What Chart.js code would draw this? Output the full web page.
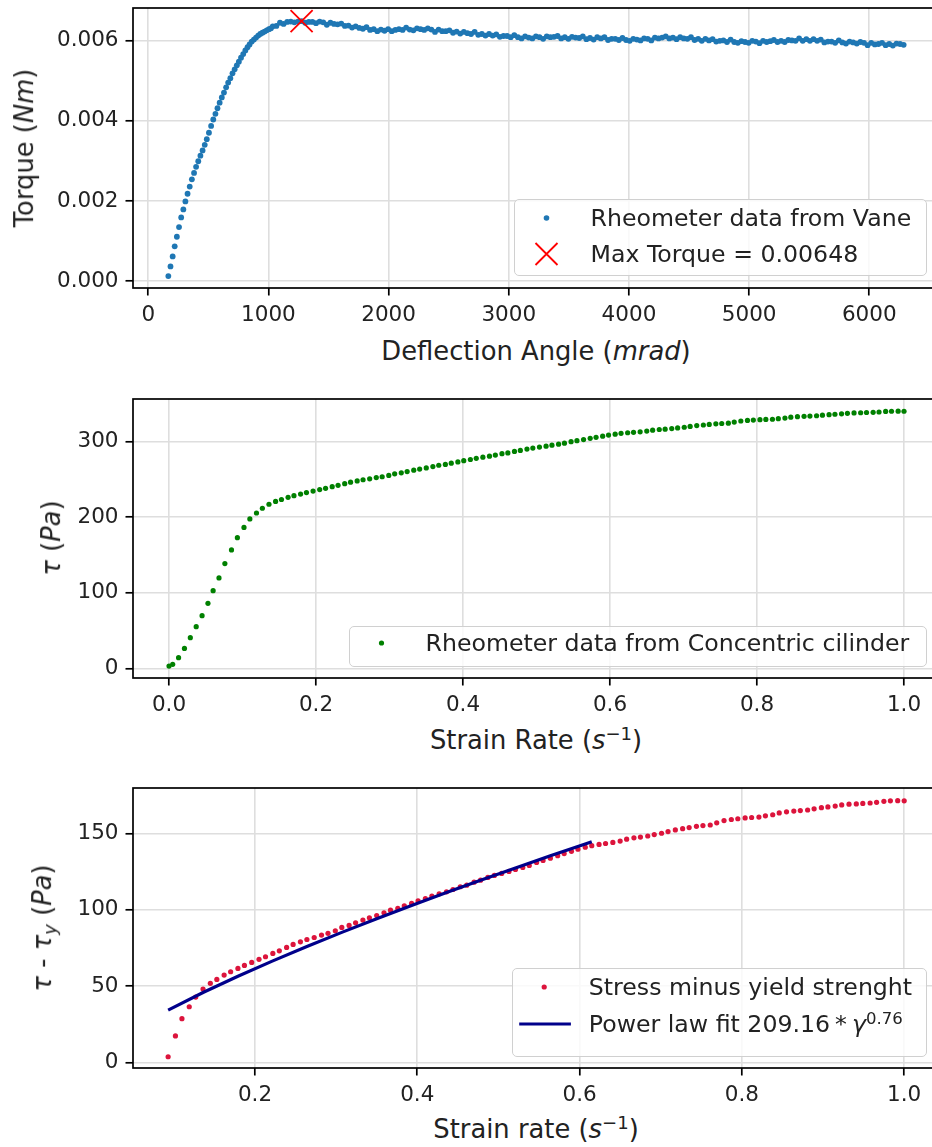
<!DOCTYPE html>
<html>
<head>
<meta charset="utf-8">
<title>Rheometer results</title>
<script src="https://cdn.jsdelivr.net/npm/chart.js@4.4.1/dist/chart.umd.min.js"></script>
<style>
  html, body { margin: 0; padding: 0; background: #fff; }
  body { position: relative; width: 932px; height: 1147px; overflow: hidden;
         font-family: "DejaVu Sans", sans-serif; color: #222; }
  canvas { position: absolute; left: 0; }
  .title { position: absolute; font-size: 25.8px; line-height: 1; white-space: nowrap;
           transform: translate(-50%, -50%); }
  .title.y { transform: translate(-50%, -50%) rotate(-90deg); }
  sup { font-size: 0.7em; vertical-align: 0.5em; line-height: 0; }
  sub { font-size: 0.7em; vertical-align: -0.3em; line-height: 0; }
  .legend { position: absolute; box-sizing: border-box; background: rgba(255,255,255,0.8);
            border: 1.5px solid #d0d0d0; border-radius: 5px; font-size: 23.65px; }
  .legend .row { position: absolute; left: 0; right: 0; height: 0; }
  .legend svg { position: absolute; left: 0; top: -15px; }
  .legend span { position: absolute; left: 75.5px; top: 0; transform: translateY(-50%);
                 line-height: 1.2; white-space: nowrap; }
</style>
</head>
<body>
<canvas id="vane" width="950" height="330" style="top:0"></canvas>
<canvas id="cylinder" width="950" height="340" style="top:380px"></canvas>
<canvas id="excess" width="950" height="340" style="top:770px"></canvas>

<div class="title y" style="left:25px; top:148px">Torque (<i>Nm</i>)</div>
<div class="title" style="left:536px; top:352px">Deflection Angle (<i>mrad</i>)</div>
<div class="title y" style="left:52px; top:538px"><i>τ</i> (<i>Pa</i>)</div>
<div class="title" style="left:536px; top:741px">Strain Rate (<i>s</i><sup>−1</sup>)</div>
<div class="title y" style="left:43px; top:928px"><i>τ</i> - <i>τ<sub>y</sub></i> (<i>Pa</i>)</div>
<div class="title" style="left:536px; top:1130px">Strain rate (<i>s</i><sup>−1</sup>)</div>

<div class="legend" style="left:514px; top:199px; width:413px; height:77px">
  <div class="row" style="top:17.8px">
    <svg width="70" height="30"><circle cx="31.5" cy="15" r="2.8" fill="#1f77b4"/></svg>
    <span>Rheometer data from Vane</span>
  </div>
  <div class="row" style="top:53.8px">
    <svg width="70" height="30"><path d="M20.5 4 L42.5 26 M42.5 4 L20.5 26" stroke="#ff0000" stroke-width="1.8" fill="none"/></svg>
    <span id="maxLabel"></span>
  </div>
</div>
<div class="legend" style="left:349px; top:625.7px; width:578px; height:41px">
  <div class="row" style="top:16.1px">
    <svg width="70" height="30"><circle cx="31.5" cy="15" r="2.6" fill="#008000"/></svg>
    <span>Rheometer data from Concentric cilinder</span>
  </div>
</div>
<div class="legend" style="left:512.3px; top:968.3px; width:415px; height:89px">
  <div class="row" style="top:17.5px">
    <svg width="70" height="30"><circle cx="31.2" cy="15" r="2.6" fill="#dc143c"/></svg>
    <span>Stress minus yield strenght</span>
  </div>
  <div class="row" style="top:55.2px">
    <svg width="70" height="30"><line x1="6.2" y1="15" x2="57.9" y2="15" stroke="#00008b" stroke-width="3.2"/></svg>
    <span>Power law fit 209.16<span style="position:static;transform:none;margin:0 5px">*</span><i>γ</i><sup>0.76</sup></span>
  </div>
</div>

<script>
// Vane test: deflection angle (mrad) vs torque (Nm)
const vaneAngle = [
  167,185,203,220,238,256,274,292,309,327,345,363,381,398,416,434,452,470,487,505,
  523,541,559,576,594,612,630,648,665,683,701,719,737,754,772,790,808,826,843,861,
  879,897,915,932,950,968,986,1004,1021,
  1036,1066,1096,1126,1156,1186,1216,1246,1276,1306,
  1336,1366,1396,1426,1456,1486,1516,1546,1576,1606,
  1636,1666,1696,1726,1756,1786,1816,1846,1876,1906,
  1936,1966,1996,2026,2056,2086,2116,2146,2176,2206,
  2236,2266,2296,2326,2356,2386,2416,2446,2476,2506,
  2536,2566,2596,2626,2656,2686,2716,2746,2776,2806,
  2836,2866,2896,2926,2956,2986,3016,3046,3076,3106,
  3136,3166,3196,3226,3256,3286,3316,3346,3376,3406,
  3436,3466,3496,3526,3556,3586,3616,3646,3676,3706,
  3736,3766,3796,3826,3856,3886,3916,3946,3976,4006,
  4036,4066,4096,4126,4156,4186,4216,4246,4276,4306,
  4336,4366,4396,4426,4456,4486,4516,4546,4576,4606,
  4636,4666,4696,4726,4756,4786,4816,4846,4876,4906,
  4936,4966,4996,5026,5056,5086,5116,5146,5176,5206,
  5236,5266,5296,5326,5356,5386,5416,5446,5476,5506,
  5536,5566,5596,5626,5656,5686,5716,5746,5776,5806,
  5836,5866,5896,5926,5956,5986,6016,6046,6076,6106,
  6136,6166,6196,6226,6256,6286
];
const vaneTorque = [
  0.00013,0.00037,0.00062,0.00087,0.00111,0.00135,0.00159,0.00179,0.00199,0.00218,
  0.00236,0.00254,0.00270,0.00285,0.00299,0.00313,0.00326,0.00340,0.00354,0.00370,
  0.00387,0.00403,0.00417,0.00431,0.00445,0.00458,0.00470,0.00483,0.00495,0.00506,
  0.00518,0.00528,0.00538,0.00547,0.00557,0.00566,0.00575,0.00583,0.00590,0.00597,
  0.00602,0.00607,0.00612,0.00616,0.00619,0.00622,0.00625,0.00628,0.00630,
  0.00635,0.00636,0.00644,0.00641,0.00646,0.00647,0.00645,0.00647,0.00648,0.00644,
  0.00646,0.00646,0.00643,0.00647,0.00645,0.00639,0.00644,0.00641,0.00640,0.00642,
  0.00636,0.00637,0.00632,0.00635,0.00631,0.00629,0.00633,0.00626,0.00628,0.00623,
  0.00627,0.00624,0.00628,0.00623,0.00626,0.00628,0.00626,0.00632,0.00627,0.00625,
  0.00630,0.00628,0.00626,0.00630,0.00627,0.00621,0.00627,0.00623,0.00623,0.00625,
  0.00619,0.00622,0.00617,0.00621,0.00618,0.00616,0.00621,0.00614,0.00616,0.00612,
  0.00616,0.00612,0.00615,0.00609,0.00611,0.00611,0.00608,0.00613,0.00608,0.00605,
  0.00610,0.00607,0.00605,0.00610,0.00608,0.00604,0.00610,0.00608,0.00609,0.00611,
  0.00605,0.00608,0.00604,0.00609,0.00607,0.00606,0.00610,0.00603,0.00606,0.00602,
  0.00608,0.00605,0.00608,0.00601,0.00604,0.00604,0.00601,0.00606,0.00601,0.00599,
  0.00604,0.00602,0.00600,0.00605,0.00604,0.00600,0.00607,0.00605,0.00607,0.00610,
  0.00605,0.00607,0.00603,0.00608,0.00605,0.00604,0.00608,0.00601,0.00604,0.00599,
  0.00604,0.00600,0.00603,0.00597,0.00599,0.00600,0.00596,0.00602,0.00596,0.00594,
  0.00598,0.00596,0.00594,0.00599,0.00597,0.00593,0.00599,0.00596,0.00598,0.00601,
  0.00596,0.00599,0.00596,0.00601,0.00600,0.00599,0.00605,0.00599,0.00603,0.00599,
  0.00603,0.00599,0.00602,0.00595,0.00597,0.00597,0.00594,0.00600,0.00595,0.00592,
  0.00597,0.00595,0.00592,0.00596,0.00594,0.00588,0.00594,0.00590,0.00591,0.00594,
  0.00588,0.00591,0.00587,0.00592,0.00591,0.00589
];
const maxAngle = 1276;
const maxTorque = 0.00648;

// Concentric cylinder: strain rate (1/s) vs shear stress (Pa)
const strainRate = [
  0,0.005,0.013,0.021,0.029,0.037,0.045,0.053,0.060,0.068,0.076,0.085,
  0.093,0.102,0.110,0.119,0.127,0.136,0.145,0.153,0.162,0.170,
  0.179,0.187,0.196,0.205,0.213,0.222,0.230,0.239,0.247,0.256,
  0.264,0.273,0.282,0.290,0.299,0.307,0.316,0.324,0.333,0.341,
  0.350,0.359,0.367,0.376,0.384,0.393,0.401,0.410,0.418,0.427,
  0.436,0.444,0.453,0.461,0.470,0.478,0.487,0.495,0.504,0.513,
  0.521,0.530,0.538,0.547,0.555,0.564,0.573,0.581,0.590,0.598,
  0.607,0.615,0.624,0.632,0.641,0.650,0.658,0.667,0.675,0.684,
  0.692,0.701,0.709,0.718,0.727,0.735,0.744,0.752,0.761,0.769,
  0.778,0.787,0.795,0.804,0.812,0.821,0.829,0.838,0.846,0.855,
  0.864,0.872,0.881,0.889,0.898,0.906,0.915,0.923,0.932,0.941,
  0.949,0.958,0.966,0.975,0.983,0.992,1.000
];
const shearStress = [
  3.0,5.3,14.1,26.4,40.6,55.1,69.7,86.0,102.8,119.6,138.6,156.7,
  172.9,186.5,197.8,205.6,211.9,217.2,220.9,223.5,226.3,228.5,
  230.7,232.6,234.6,236.6,238.3,240.5,242.2,244.4,246.4,248.1,
  249.6,250.9,252.5,253.6,255.3,257.5,258.8,260.5,262.3,263.8,
  265.3,267.1,268.8,269.9,271.6,273.2,274.9,276.4,278.0,279.5,
  280.8,282.3,284.1,285.1,287.1,288.4,290.2,291.5,292.8,294.1,
  295.4,296.7,298.0,300.0,301.3,302.8,304.4,305.8,307.3,308.7,
  310.0,311.0,311.8,312.4,313.1,314.0,315.2,316.1,316.6,317.3,
  318.2,319.1,320.2,321.3,322.1,322.8,323.6,324.1,324.5,325.9,
  327.4,328.1,328.6,329.1,329.4,329.7,330.5,331.2,332.4,333.1,
  333.6,333.9,334.3,335.1,335.8,336.3,336.9,337.6,338.1,338.3,
  338.6,338.9,339.3,340.0,340.3,340.4,340.3
];

// Stress above the yield point, from 0.093 1/s on
const excessRate = strainRate.slice(12);
const excessStress = [
  3.9,17.5,28.8,36.6,42.9,48.2,51.9,54.5,57.3,59.5,
  61.7,63.6,65.6,67.6,69.3,71.5,73.2,75.4,77.4,79.1,
  80.6,81.9,83.5,84.6,86.3,88.5,89.8,91.5,93.3,94.8,
  96.3,98.1,99.8,100.9,102.6,104.2,105.9,107.4,109.0,110.5,
  111.8,113.3,115.1,116.1,118.1,119.4,121.2,122.5,123.8,125.1,
  126.4,127.7,129.0,131.0,132.3,133.8,135.4,136.8,138.3,139.7,
  141.0,142.0,142.8,143.4,144.1,145.0,146.2,147.1,147.6,148.3,
  149.2,150.1,151.2,152.3,153.1,153.8,154.6,155.1,155.5,156.9,
  158.4,159.1,159.6,160.1,160.4,160.7,161.5,162.2,163.4,164.1,
  164.6,164.9,165.3,166.1,166.8,167.3,167.9,168.6,169.1,169.3,
  169.6,169.9,170.3,171.0,171.3,171.4,171.3
];

// Power law fit 209.16 * rate^0.76 over the fitted range
const fitRate = [0.093,0.136,0.179,0.222,0.264,0.307,0.350,0.393,0.436,0.478,0.521,0.564,0.607,0.615];
const fitStress = [34.40,45.91,56.58,66.63,76.01,85.25,94.18,102.86,111.30,119.36,127.44,135.35,143.12,144.55];

// Tick values
const angleTicks = [0,1000,2000,3000,4000,5000,6000];
const torqueTicks = [0,0.002,0.004,0.006];
const rateTicks = [0,0.2,0.4,0.6,0.8,1.0];
const stressTicks = [0,100,200,300];
const excessRateTicks = [0.2,0.4,0.6,0.8,1.0];
const excessTicks = [0,50,100,150];

document.getElementById('maxLabel').textContent = 'Max Torque = ' + maxTorque;

Chart.defaults.font.family = '"DejaVu Sans", sans-serif';
Chart.defaults.color = '#222';

const PLOT_LEFT = 133;
const PLOT_RIGHT = 939;

// black box around the plot area
const spines = {
  id: 'spines',
  afterDatasetsDraw(chart) {
    const { ctx, chartArea: a } = chart;
    ctx.save();
    ctx.strokeStyle = '#000';
    ctx.lineWidth = 1.7;
    ctx.strokeRect(a.left, a.top, a.right - a.left, a.bottom - a.top);
    ctx.restore();
  }
};

const pts = (xs, ys) => xs.map((x, i) => ({ x, y: ys[i] }));

function axis(min, max, ticks, fmt) {
  return {
    type: 'linear', min, max,
    afterBuildTicks: s => { s.ticks = ticks.map(v => ({ value: v })); },
    border: { display: false },
    grid: { color: '#dedede', lineWidth: 1.6, tickColor: '#000', tickWidth: 1.7, tickLength: 7.5 },
    ticks: { font: { size: 21.5 }, color: '#222', padding: 7, maxRotation: 0, autoSkip: false, callback: fmt }
  };
}

function plot(id, datasets, xAxis, yAxis, top, height) {
  const canvas = document.getElementById(id);
  xAxis.afterFit = s => { s.height = canvas.height - top - height; s.paddingLeft = 0; s.paddingRight = 0; };
  yAxis.afterFit = s => { s.width = PLOT_LEFT; s.paddingTop = 0; s.paddingBottom = 0; };
  return new Chart(canvas, {
    type: 'scatter',
    data: { datasets },
    options: {
      responsive: false,
      animation: false,
      layout: { autoPadding: false, padding: { top, left: 0, bottom: 0, right: canvas.width - PLOT_RIGHT } },
      plugins: { legend: { display: false }, tooltip: { enabled: false } },
      scales: { x: xAxis, y: yAxis }
    },
    plugins: [spines]
  });
}

plot('vane', [
  { label: 'Max Torque', data: [{ x: maxAngle, y: maxTorque }], order: 0,
    pointStyle: 'crossRot', pointRadius: 15.6, borderColor: '#ff0000', borderWidth: 1.8 },
  { label: 'Rheometer data from Vane', data: pts(vaneAngle, vaneTorque), order: 1,
    pointRadius: 2.9, backgroundColor: '#1f77b4', borderWidth: 0 }
],
  axis(-127, 6580, angleTicks, v => String(v)),
  axis(-0.000167, 0.006807, torqueTicks, v => v.toFixed(3)),
  8, 280);

plot('cylinder', [
  { label: 'Rheometer data from Concentric cilinder', data: pts(strainRate, shearStress),
    pointRadius: 2.6, backgroundColor: '#008000', borderWidth: 0 }
],
  axis(-0.049, 1.0476, rateTicks, v => v.toFixed(1)),
  axis(-12.8, 356.5, stressTicks, v => String(v)),
  19, 279);

plot('excess', [
  { label: 'Power law fit', data: pts(fitRate, fitStress), order: 0, showLine: true,
    pointRadius: 0, borderColor: '#00008b', borderWidth: 3.2, tension: 0 },
  { label: 'Stress minus yield strenght', data: pts(excessRate, excessStress), order: 1,
    pointRadius: 2.6, backgroundColor: '#dc143c', borderWidth: 0 }
],
  axis(0.0497, 1.0429, excessRateTicks, v => v.toFixed(1)),
  axis(-3.47, 179.7, excessTicks, v => String(v)),
  18, 280);
</script>
</body>
</html>
